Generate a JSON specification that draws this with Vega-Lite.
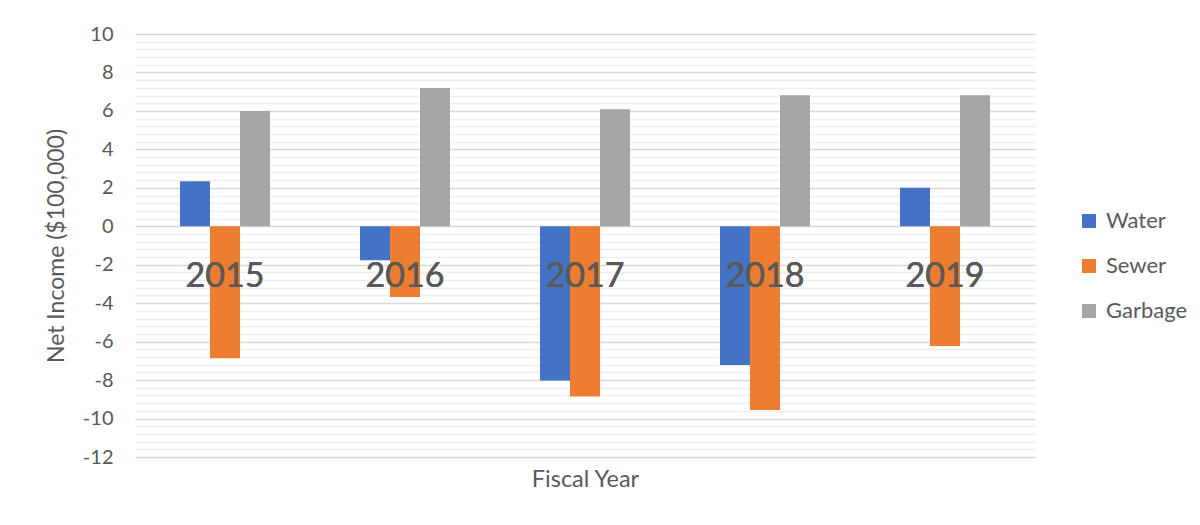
{
  "$schema": "https://vega.github.io/schema/vega-lite/v6.json",
  "width": 900,
  "height": 423,
  "autosize": "none",
  "padding": {"left": 135, "top": 34, "right": 165, "bottom": 68},
  "background": "white",
  "config": {
    "font": "Lato",
    "view": {"stroke": null}
  },
  "data": {
    "values": [
      {"year": "2015", "series": "Water", "value": 2.34},
      {"year": "2015", "series": "Sewer", "value": -6.86},
      {"year": "2015", "series": "Garbage", "value": 5.99},
      {"year": "2016", "series": "Water", "value": -1.77},
      {"year": "2016", "series": "Sewer", "value": -3.68},
      {"year": "2016", "series": "Garbage", "value": 7.19},
      {"year": "2017", "series": "Water", "value": -8.02},
      {"year": "2017", "series": "Sewer", "value": -8.85},
      {"year": "2017", "series": "Garbage", "value": 6.09},
      {"year": "2018", "series": "Water", "value": -7.22},
      {"year": "2018", "series": "Sewer", "value": -9.55},
      {"year": "2018", "series": "Garbage", "value": 6.82},
      {"year": "2019", "series": "Water", "value": 2.0},
      {"year": "2019", "series": "Sewer", "value": -6.23},
      {"year": "2019", "series": "Garbage", "value": 6.82}
    ]
  },
  "resolve": {"axis": {"y": "independent"}},
  "layer": [
    {
      "mark": {"type": "bar", "opacity": 0},
      "encoding": {
        "x": {
          "field": "year", "type": "nominal",
          "scale": {"paddingInner": 0.5, "paddingOuter": 0.25},
          "axis": {
            "orient": "bottom", "labels": false, "ticks": false, "domain": false,
            "title": "Fiscal Year", "titleFontSize": 23.5, "titleFontWeight": "normal",
            "titleColor": "#595959", "titlePadding": 10
          }
        },
        "y": {
          "field": "value", "type": "quantitative",
          "scale": {"domain": [-12, 10], "nice": false, "zero": false},
          "axis": {
            "orient": "left",
            "values": [-11.6,-11.2,-10.8,-10.4,-9.6,-9.2,-8.8,-8.4,-7.6,-7.2,-6.8,-6.4,-5.6,-5.2,-4.8,-4.4,-3.6,-3.2,-2.8,-2.4,-1.6,-1.2,-0.8,-0.4,0.4,0.8,1.2,1.6,2.4,2.8,3.2,3.6,4.4,4.8,5.2,5.6,6.4,6.8,7.2,7.6,8.4,8.8,9.2,9.6],
            "grid": true, "gridColor": "#efefef", "gridWidth": 1.5,
            "labels": false, "ticks": false, "domain": false, "title": null
          }
        }
      }
    },
    {
      "mark": {"type": "bar"},
      "encoding": {
        "x": {"field": "year", "type": "nominal", "scale": {"paddingInner": 0.5, "paddingOuter": 0.25}},
        "xOffset": {"field": "series", "type": "nominal", "sort": ["Water", "Sewer", "Garbage"]},
        "y": {
          "field": "value", "type": "quantitative",
          "scale": {"domain": [-12, 10], "nice": false, "zero": false},
          "axis": {
            "orient": "left",
            "values": [-12,-10,-8,-6,-4,-2,0,2,4,6,8,10],
            "labelExpr": "'' + datum.value",
            "grid": true, "gridColor": "#d9d9d9", "gridWidth": 1.5,
            "ticks": false, "domain": false,
            "labelFontSize": 20, "labelColor": "#595959", "labelPadding": 22,
            "title": "Net Income ($100,000)", "titleFontSize": 23, "titleFontWeight": "normal",
            "titleColor": "#595959", "titlePadding": 14
          }
        },
        "color": {
          "field": "series", "type": "nominal",
          "scale": {"domain": ["Water", "Sewer", "Garbage"], "range": ["#4472C4", "#ED7D31", "#A5A5A5"]},
          "legend": {
            "title": null, "orient": "none", "legendX": 943, "legendY": 176,
            "symbolType": "square", "symbolSize": 196, "symbolStrokeWidth": 0, "symbolOpacity": 1,
            "labelFontSize": 22, "labelColor": "#595959", "labelOffset": 6, "rowPadding": 23
          }
        }
      }
    },
    {
      "mark": {"type": "text", "fontSize": 34, "color": "#595959", "baseline": "alphabetic", "align": "center"},
      "encoding": {
        "x": {"field": "year", "type": "nominal", "scale": {"paddingInner": 0.5, "paddingOuter": 0.25}},
        "y": {"datum": -3.16, "type": "quantitative", "axis": null},
        "text": {"field": "year"}
      }
    }
  ]
}
